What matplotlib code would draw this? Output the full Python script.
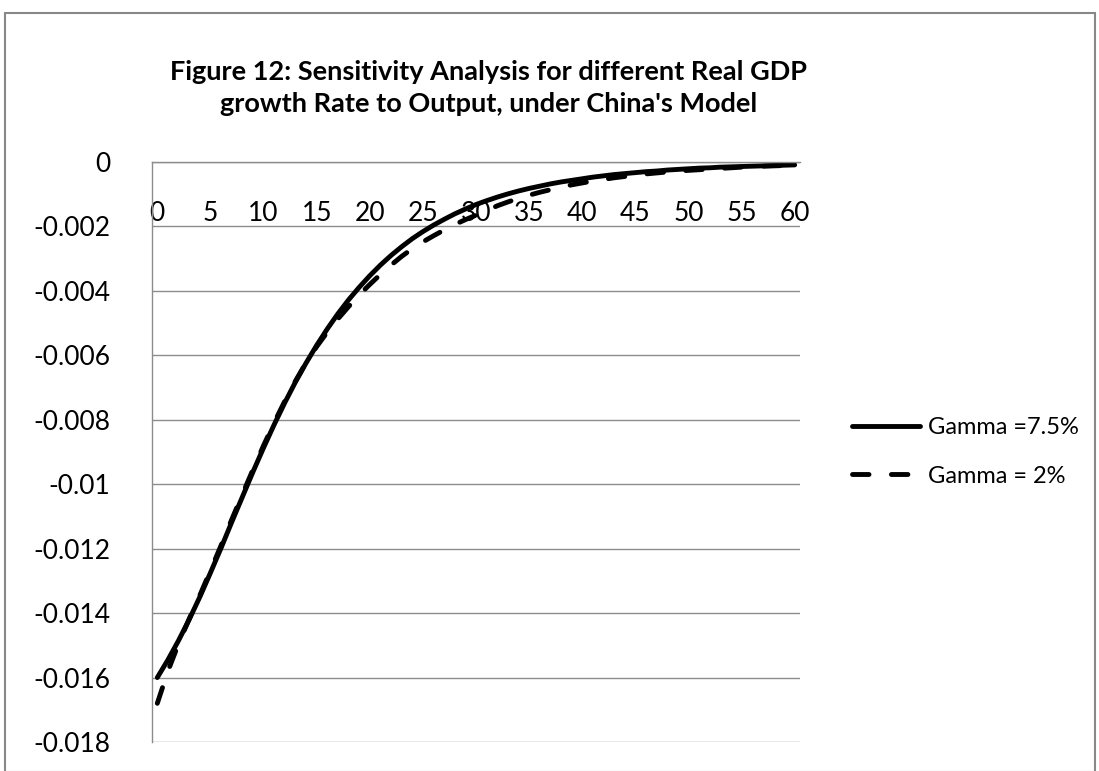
import matplotlib
matplotlib.use("Agg")
import matplotlib.pyplot as plt
from matplotlib.patches import Rectangle
from matplotlib.ticker import FixedLocator

periods = list(range(0, 61))
gamma_75 = [
    -0.01600, -0.01545, -0.01485, -0.01420, -0.01350, -0.01275, -0.01198, -0.01118,
    -0.01040, -0.00962, -0.00887, -0.00815, -0.00747, -0.00683, -0.00624, -0.00569,
    -0.00518, -0.00471, -0.00428, -0.00389, -0.00353, -0.00320, -0.00290, -0.00263,
    -0.00238, -0.00216, -0.00196, -0.00178, -0.00161, -0.00146, -0.00132, -0.00120,
    -0.00109, -0.00099, -0.00090, -0.00082, -0.00075, -0.00068, -0.00062, -0.00057,
    -0.00052, -0.00047, -0.00043, -0.00039, -0.00036, -0.00033, -0.00030, -0.00028,
    -0.00025, -0.00023, -0.00021, -0.00019, -0.00018, -0.00016, -0.00015, -0.00014,
    -0.00013, -0.00012, -0.00011, -0.00010, -0.00009,
]
gamma_2 = [
    -0.01680, -0.01580, -0.01495, -0.01418, -0.01345, -0.01268, -0.01190, -0.01110,
    -0.01032, -0.00955, -0.00880, -0.00809, -0.00742, -0.00680, -0.00623, -0.00573,
    -0.00528, -0.00487, -0.00449, -0.00413, -0.00380, -0.00349, -0.00320, -0.00293,
    -0.00269, -0.00248, -0.00229, -0.00211, -0.00194, -0.00179, -0.00165, -0.00151,
    -0.00136, -0.00124, -0.00113, -0.00103, -0.00094, -0.00086, -0.00078, -0.00071,
    -0.00065, -0.00059, -0.00054, -0.00049, -0.00045, -0.00041, -0.00037, -0.00034,
    -0.00031, -0.00028, -0.00026, -0.00024, -0.00022, -0.00020, -0.00018, -0.00016,
    -0.00015, -0.00013, -0.00012, -0.00011, -0.00010,
]
x_ticks = list(range(0, 61, 5))
y_ticks = [-0.018, -0.016, -0.014, -0.012, -0.01, -0.008, -0.006, -0.004, -0.002, 0]
y_tick_labels = ["-0.018", "-0.016", "-0.014", "-0.012", "-0.01", "-0.008",
                 "-0.006", "-0.004", "-0.002", "0"]
series_labels = ["Gamma =7.5%", "Gamma = 2%"]
title = "Figure 12: Sensitivity Analysis for different Real GDP\ngrowth Rate to Output, under China's Model"

plt.rcParams['font.family'] = ['Lato', 'DejaVu Sans']

W, H = 1099, 771
fig = plt.figure(figsize=(W / 100, H / 100), dpi=100)
fig.patch.set_facecolor('white')

# outer chart border
fig.add_artist(Rectangle((5 / W, 1 - 772 / H), 1090 / W, 759 / H, transform=fig.transFigure,
                         fill=False, edgecolor='#888888', linewidth=1.5))

left, right, top, bottom = 152, 800, 162, 742
ax = fig.add_axes([left / W, 1 - bottom / H, (right - left) / W, (bottom - top) / H])

grid_c = '#8c8c8c'
ax.plot(periods, gamma_75, color='black', lw=3.5, solid_capstyle='round',
        solid_joinstyle='round', label=series_labels[0])
ax.plot(periods, gamma_2, color='black', lw=3.5, dashes=(3.4, 4.6),
        dash_capstyle='round', label=series_labels[1])

ax.set_xlim(-0.5, 60.5)
ax.set_ylim(-0.018, 0)
ax.yaxis.set_major_locator(FixedLocator(y_ticks))
ax.set_yticklabels(y_tick_labels)
ax.set_xticks(x_ticks)
ax.set_xticklabels([str(t) for t in x_ticks])
ax.grid(axis='y', color=grid_c, lw=1.0)
ax.set_axisbelow(True)

for s in ['top', 'right']:
    ax.spines[s].set_visible(False)
ax.spines['left'].set_color(grid_c)
ax.spines['left'].set_linewidth(1.0)
ax.spines['bottom'].set_position(('data', 0))
ax.spines['bottom'].set_color(grid_c)
ax.spines['bottom'].set_linewidth(1.0)

ax.tick_params(axis='y', length=0, pad=30, labelsize=19, colors='black')
ax.tick_params(axis='x', length=0, pad=28, labelsize=19, colors='black')

fig.text(489 / W, 1 - 88 / H, title, ha='center', va='center', fontsize=19.5,
         fontweight='bold', linespacing=1.35)

leg = fig.legend(loc='center left', bbox_to_anchor=(852 / W, 1 - 452 / H),
                 frameon=False, fontsize=17, handlelength=2.9, handletextpad=0.3,
                 labelspacing=1.15, borderpad=0, borderaxespad=0)

fig.savefig('out.png', dpi=100)
